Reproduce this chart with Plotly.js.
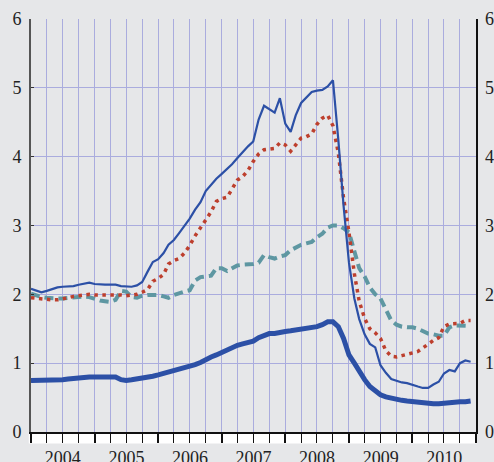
<!DOCTYPE html>
<html>
<head>
<meta charset="utf-8">
<script src="https://cdn.plot.ly/plotly-3.0.1.min.js"></script>
<style>html,body{margin:0;padding:0;background:#e6e7e9;}#chart{width:494px;height:462px;}</style>
</head>
<body>
<div id="chart"></div>
<script>
// Monthly observations, January 2004 to December 2010
const startYear = 2004;
const monthCount = 84;
const months = [];
for (let i = 0; i < monthCount; i++) {
  const y = startYear + Math.floor(i / 12);
  const m = (i % 12) + 1;
  months.push(y + '-' + (m < 10 ? '0' + m : m) + '-01');
}

// thin solid blue line
const thinBlue = [2.08,2.05,2.03,2.05,2.08,2.10,2.11,2.11,2.12,2.14,2.16,2.17,
  2.15,2.14,2.14,2.14,2.14,2.12,2.11,2.11,2.13,2.18,2.33,2.47,
  2.51,2.60,2.72,2.79,2.89,2.99,3.10,3.23,3.34,3.50,3.60,3.68,
  3.75,3.82,3.89,3.98,4.07,4.15,4.22,4.54,4.74,4.69,4.64,4.85,
  4.48,4.36,4.60,4.78,4.86,4.94,4.96,4.97,5.02,5.11,4.24,3.29,
  2.46,1.94,1.64,1.42,1.28,1.23,0.97,0.86,0.77,0.74,0.72,0.71,
  0.68,0.66,0.64,0.64,0.69,0.73,0.85,0.90,0.88,1.00,1.04,1.02];

// red dotted line
const redDotted = [1.95,1.94,1.94,1.93,1.92,1.92,1.93,1.95,1.97,1.98,2.00,2.00,
  1.99,1.99,1.99,2.00,2.00,1.99,1.98,1.99,2.00,2.03,2.07,2.19,
  2.23,2.29,2.44,2.49,2.52,2.60,2.71,2.85,2.96,3.08,3.20,3.35,
  3.39,3.41,3.53,3.66,3.71,3.80,3.93,4.04,4.10,4.11,4.12,4.20,
  4.17,4.08,4.17,4.27,4.29,4.33,4.47,4.56,4.60,4.45,4.05,3.40,
  2.90,2.30,1.90,1.65,1.50,1.44,1.36,1.18,1.10,1.09,1.11,1.13,
  1.15,1.17,1.22,1.28,1.33,1.37,1.53,1.57,1.57,1.58,1.62,1.62];

// teal dashed line
const tealDashed = [2.01,1.98,1.96,1.95,1.94,1.94,1.94,1.95,1.96,1.97,1.97,1.96,
  1.93,1.91,1.90,1.89,1.92,2.05,2.04,1.96,1.95,1.98,1.99,1.99,
  1.99,1.97,1.95,1.99,2.02,2.04,2.06,2.20,2.25,2.26,2.27,2.38,
  2.38,2.34,2.38,2.42,2.43,2.43,2.44,2.46,2.57,2.54,2.52,2.55,
  2.57,2.64,2.68,2.72,2.74,2.76,2.83,2.88,2.97,3.00,3.00,2.96,
  2.90,2.60,2.38,2.26,2.10,2.00,1.94,1.78,1.62,1.56,1.53,1.52,
  1.52,1.50,1.46,1.43,1.42,1.40,1.40,1.52,1.55,1.55,1.55,1.54];

// thick solid blue line
const thickBlue = [0.75,0.75,0.75,0.75,0.75,0.75,0.76,0.77,0.78,0.78,0.79,0.80,
  0.80,0.80,0.80,0.80,0.80,0.76,0.75,0.76,0.77,0.78,0.79,0.81,
  0.83,0.85,0.87,0.90,0.92,0.93,0.95,0.98,1.01,1.06,1.09,1.12,
  1.16,1.19,1.23,1.26,1.28,1.30,1.32,1.37,1.40,1.43,1.43,1.45,
  1.46,1.47,1.48,1.49,1.50,1.51,1.53,1.56,1.60,1.60,1.53,1.36,
  1.12,1.00,0.88,0.76,0.66,0.60,0.54,0.51,0.49,0.47,0.46,0.45,
  0.44,0.43,0.42,0.42,0.41,0.41,0.42,0.42,0.43,0.44,0.44,0.45];

const yTicks = [0,1,2,3,4,5,6];

const blue = '#2c50a6';
const traces = [
  {x: months, y: tealDashed, type: 'scatter', mode: 'lines',
   line: {color: '#5e97a2', width: 4, dash: '9px,5px'}},
  {x: months, y: redDotted, type: 'scatter', mode: 'lines',
   line: {color: '#bd3f2d', width: 3.5, dash: '3.5px,4.5px'}},
  {x: months, y: thinBlue, type: 'scatter', mode: 'lines',
   line: {color: blue, width: 2.2}},
  {x: months, y: thickBlue, type: 'scatter', mode: 'lines',
   line: {color: blue, width: 5}},
  {x: months, y: thickBlue, type: 'scatter', mode: 'none', yaxis: 'y2',
   hoverinfo: 'skip', showlegend: false}
];

const gridCol = '#aaacde';
const fontFam = '"Liberation Serif", "Times New Roman", serif';
const layout = {
  width: 494, height: 462,
  margin: {l: 31, r: 18, t: 19, b: 30},
  paper_bgcolor: '#e6e7e9',
  plot_bgcolor: '#e6e7e9',
  showlegend: false,
  font: {family: fontFam, size: 18, color: '#222'},
  xaxis: {
    type: 'date',
    range: ['2004-01-01', '2011-01-01'],
    tick0: '2004-01-01', dtick: 'M12',
    tickformat: '%Y', ticklabelmode: 'period',
    ticks: 'outside', ticklen: 9, tickwidth: 2, tickcolor: '#111',
    showgrid: true, gridcolor: gridCol, gridwidth: 1,
    minor: {dtick: 'M3', ticks: 'outside', ticklen: 9, tickwidth: 1, tickcolor: '#111',
            showgrid: true, gridcolor: gridCol, gridwidth: 1},
    showline: true, linecolor: '#111', linewidth: 1.5,
    tickfont: {family: fontFam, size: 18, color: '#222'},
    fixedrange: true
  },
  yaxis: {
    range: [0, 6], tickvals: yTicks,
    ticks: 'inside', ticklen: 3, tickcolor: '#333',
    showgrid: true, gridcolor: gridCol, gridwidth: 1,
    zeroline: false,
    showline: true, linecolor: '#555', linewidth: 2,
    tickfont: {family: fontFam, size: 18, color: '#222'},
    ticklabelstandoff: 4
  },
  yaxis2: {
    range: [0, 6], tickvals: yTicks, overlaying: 'y', side: 'right',
    showgrid: false, zeroline: false,
    showline: true, linecolor: '#111', linewidth: 1.5,
    ticks: '', tickfont: {family: fontFam, size: 18, color: '#222'},
    ticklabelstandoff: 4
  },
  shapes: [
    {type: 'rect', xref: 'paper', yref: 'paper', x0: -0.005, x1: 1.002,
     y0: -0.028, y1: 0, fillcolor: '#ffffff', line: {width: 0}, layer: 'below'}
  ]
};

Plotly.newPlot('chart', traces, layout, {displayModeBar: false, staticPlot: true});
</script>
</body>
</html>
